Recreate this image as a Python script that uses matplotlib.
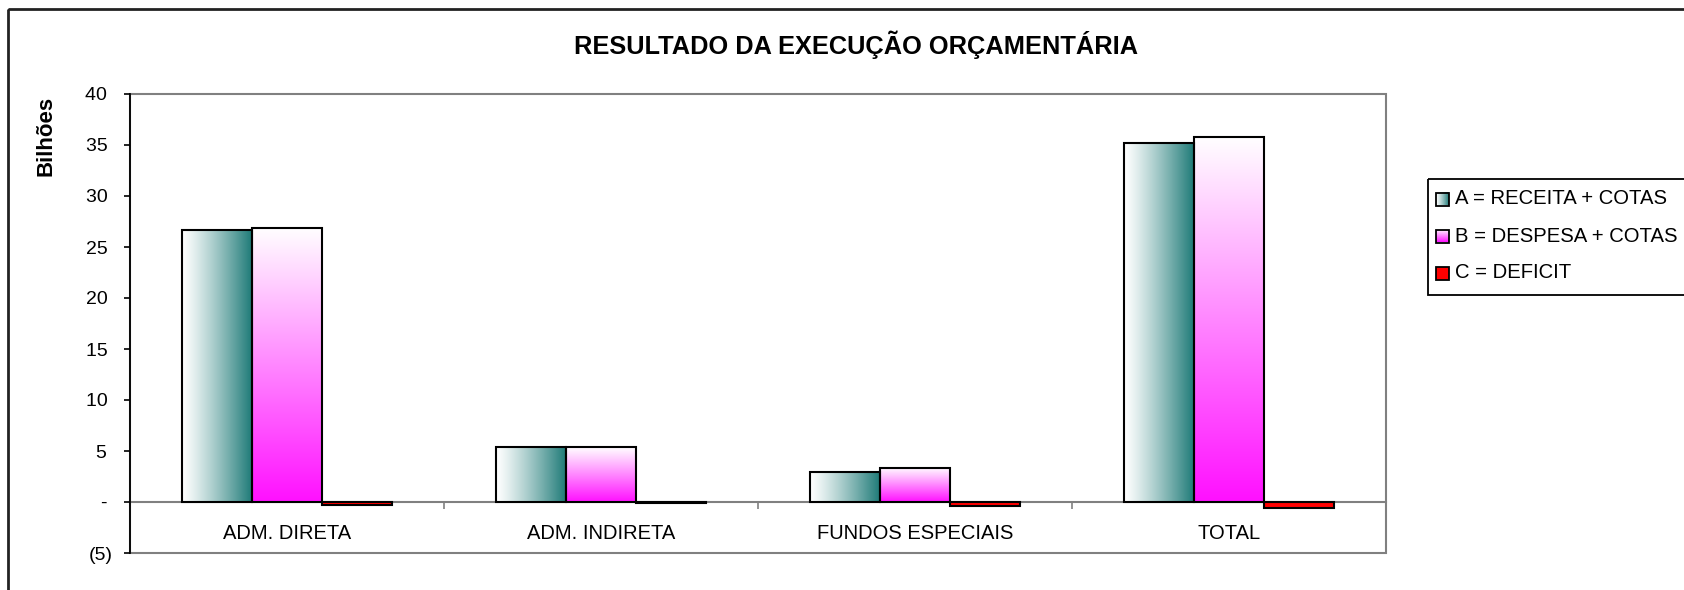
import numpy as np
import matplotlib
matplotlib.use('Agg')
import matplotlib.pyplot as plt
from matplotlib.patches import Rectangle
from matplotlib.colors import to_rgb

# ---------------- data ----------------
title = "RESULTADO DA EXECUÇÃO ORÇAMENTÁRIA"
ylabel = "Bilhões"
categories = ["ADM. DIRETA", "ADM. INDIRETA", "FUNDOS ESPECIAIS", "TOTAL"]
series_labels = ["A = RECEITA + COTAS", "B = DESPESA + COTAS", "C = DEFICIT"]
receita = [26.7, 5.35, 2.98, 35.2]
despesa = [26.9, 5.35, 3.37, 35.8]
deficit = [-0.3, -0.1, -0.35, -0.55]
yticks = [-5, 0, 5, 10, 15, 20, 25, 30, 35, 40]
ytick_labels = ["(5)", "- ", "5 ", "10 ", "15 ", "20 ", "25 ", "30 ", "35 ", "40 "]

# ---------------- style ----------------
plt.rcParams['font.family'] = ['Liberation Sans', 'DejaVu Sans']
W, H = 1684, 590
fig = plt.figure(figsize=(W / 100, H / 100), dpi=100)
fig.patch.set_facecolor('white')

teal = np.array(to_rgb('#1f7b78'))
magenta = np.array(to_rgb('#ff10ff'))
red = '#ff0000'


def hgrad(n=256):
    t = np.linspace(0, 1, n)[None, :, None] ** 1.2
    return (1 - t) * np.ones(3) + t * teal


def vgrad(n=256):
    t = np.linspace(0, 1, n)[:, None, None]
    return (1 - t) * np.ones(3) + t * magenta


# overlay axes in pixel coordinates (border, title, legend)
ov = fig.add_axes([0, 0, 1, 1])
ov.set_axis_off()

ax = fig.add_axes([130 / W, 37 / H, 1256 / W, 459 / H])
ax.set_facecolor('white')

x = np.arange(len(categories))
w = 1 / 4.5
lw = 1.5

bars_a = ax.bar(x - w, receita, w, facecolor='none', edgecolor='black', lw=lw, zorder=3)
bars_b = ax.bar(x, despesa, w, facecolor='none', edgecolor='black', lw=lw, zorder=3)
bars_c = ax.bar(x + w, deficit, w, facecolor=red, edgecolor='black', lw=lw, zorder=3)

for bars, grad in ((bars_a, hgrad), (bars_b, vgrad)):
    for p in bars:
        x0 = p.get_x()
        x1 = x0 + p.get_width()
        y0 = p.get_y()
        y1 = y0 + p.get_height()
        ax.imshow(grad(), extent=[x0, x1, min(y0, y1), max(y0, y1)],
                  aspect='auto', zorder=2, interpolation='bilinear')

ax.set_xlim(-0.5, len(categories) - 0.5)
ax.set_ylim(-5, 40)

# axes styling
for s in ('top', 'right'):
    ax.spines[s].set_visible(False)
ax.spines['bottom'].set_position(('data', 0))
ax.spines['bottom'].set_color('#808080')
ax.spines['bottom'].set_linewidth(1.5)
ax.spines['bottom'].set_zorder(1)
ax.spines['left'].set_color('black')
ax.spines['left'].set_linewidth(1.3)
ax.spines['left'].set_zorder(4)
ax.add_patch(Rectangle((0, 0), 1, 1, transform=ax.transAxes, fill=False,
                       ec='#808080', lw=1.5, zorder=0.5, clip_on=False))

ax.set_yticks(yticks)
ax.set_yticklabels(ytick_labels)
ax.tick_params(axis='y', length=4.5, width=1.2, pad=8, labelsize=14, color='black')

ax.set_xticks(x)
ax.set_xticklabels(categories)
ax.tick_params(axis='x', which='major', length=0, pad=15.5, labelsize=14.5)
ax.set_xticks(np.arange(len(categories) - 1) + 0.5, minor=True)
ax.tick_params(axis='x', which='minor', length=5, width=1.2, color='#808080')

# ---------------- overlay: border, title, ylabel, legend ----------------
ov.add_patch(Rectangle((8, 9), 1800, 700, fill=False, ec='#222222', lw=2))
ov.text(856, 44.6, title, ha='center', va='center', fontsize=18.3, weight='bold')
ov.text(46, 136, ylabel, rotation=90, ha='center', va='center',
        fontsize=16, weight='bold')

ov.add_patch(Rectangle((1428, 179), 400, 116, fill=False, ec='black', lw=1.3))
entry_y = [199, 236, 273]
ms = 13
for i, (lab, yy) in enumerate(zip(series_labels, entry_y)):
    x0, x1 = 1436, 1436 + ms
    if i == 0:
        ov.imshow(hgrad(), extent=[x0, x1, yy + ms / 2, yy - ms / 2],
                  aspect='auto', interpolation='bilinear', zorder=2)
        ov.add_patch(Rectangle((x0, yy - ms / 2), ms, ms, fill=False, ec='black', lw=1.3, zorder=3))
    elif i == 1:
        ov.imshow(vgrad(), extent=[x0, x1, yy + ms / 2, yy - ms / 2],
                  aspect='auto', interpolation='bilinear', zorder=2)
        ov.add_patch(Rectangle((x0, yy - ms / 2), ms, ms, fill=False, ec='black', lw=1.3, zorder=3))
    else:
        ov.add_patch(Rectangle((x0, yy - ms / 2), ms, ms, fc=red, ec='black', lw=1.3, zorder=3))
    ov.text(1455, yy, lab, ha='left', va='center', fontsize=14.6)

ov.set_xlim(0, W)
ov.set_ylim(H, 0)

fig.savefig('out.png', dpi=100)
